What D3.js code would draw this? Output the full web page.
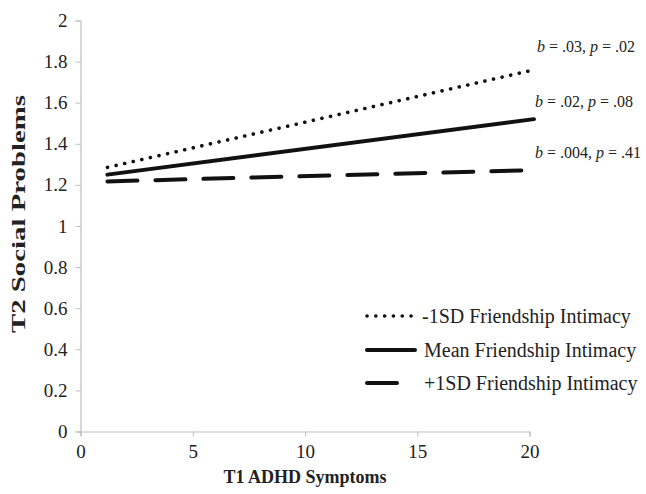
<!DOCTYPE html>
<html>
<head>
<meta charset="utf-8">
<script src="https://cdn.jsdelivr.net/npm/d3@7"></script>
<style>
  body { margin: 0; background: #fff; }
</style>
</head>
<body>
<div id="chart"></div>
<script>
// line end points
var xEnds = [1.2, 20.2]
var lowIntimacy = [1.285, 1.76]
var meanIntimacy = [1.25, 1.52]
var highIntimacy = [1.217, 1.272]

var seriesNames = ['-1SD Friendship Intimacy', 'Mean Friendship Intimacy', '+1SD Friendship Intimacy']
var slopeLabels = [
  ['b', ' = .03, ', 'p', ' = .02'],
  ['b', ' = .02, ', 'p', ' = .08'],
  ['b', ' = .004, ', 'p', ' = .41']
]
var xTicks = [0, 5, 10, 15, 20]
var yTicks = [0, 0.2, 0.4, 0.6, 0.8, 1, 1.2, 1.4, 1.6, 1.8, 2]

var serif = '"Liberation Serif", "Times New Roman", serif'
var width = 646, height = 494
var svg = d3.select('#chart').append('svg')
  .attr('width', width)
  .attr('height', height)
  .attr('font-family', serif)

var x = d3.scaleLinear().domain([0, 20]).range([80.5, 529.5])
var y = d3.scaleLinear().domain([0, 2]).range([431.5, 20.5])

var axisColour = '#bfbfbf'

// y axis
var yAxis = svg.append('g').attr('transform', 'translate(' + x(0) + ',0)')
  .call(d3.axisLeft(y).tickValues(yTicks).tickSize(5).tickPadding(8).tickFormat(d3.format('~g')))
yAxis.attr('font-family', serif).attr('font-size', 19)
yAxis.select('.domain').attr('stroke', axisColour).attr('stroke-width', 1.2)
yAxis.selectAll('.tick line').attr('stroke', axisColour)
yAxis.selectAll('.tick text').attr('fill', '#222')

// x axis
var xAxis = svg.append('g').attr('transform', 'translate(0,' + y(0) + ')')
  .call(d3.axisBottom(x).tickValues(xTicks).tickSize(5).tickPadding(8))
xAxis.attr('font-family', serif).attr('font-size', 19)
xAxis.select('.domain').attr('stroke', axisColour).attr('stroke-width', 1.2)
xAxis.selectAll('.tick line').attr('stroke', axisColour)
xAxis.selectAll('.tick text').attr('fill', '#222')

svg.append('text')
  .text('T1 ADHD Symptoms')
  .attr('x', 305)
  .attr('y', 483)
  .attr('text-anchor', 'middle')
  .attr('font-weight', 'bold')
  .attr('font-size', 18)
  .attr('fill', '#222')

svg.append('text')
  .text('T2 Social Problems')
  .attr('transform', 'translate(25,214) rotate(-90)')
  .attr('text-anchor', 'middle')
  .attr('font-weight', 'bold')
  .attr('font-size', 18)
  .attr('textLength', 238)
  .attr('lengthAdjust', 'spacingAndGlyphs')
  .attr('fill', '#222')

var styles = [
  {width: 3.6, dash: '0.1,8.7'},
  {width: 4, dash: null},
  {width: 4, dash: '30,18'}
]
var series = [lowIntimacy, meanIntimacy, highIntimacy]

var line = d3.line()
  .x(function(d){ return x(d[0]) })
  .y(function(d){ return y(d[1]) })

series.forEach(function(vals, i) {
  var pts = xEnds.map(function(xv, j){ return [xv, vals[j]] })
  svg.append('path')
    .datum(pts)
    .attr('d', line)
    .attr('fill', 'none')
    .attr('stroke', '#111')
    .attr('stroke-width', styles[i].width)
    .attr('stroke-linecap', 'round')
    .attr('stroke-dasharray', styles[i].dash)
})

// slope annotations
var annY = [52, 107, 158]
var annX = [537, 535, 535]
slopeLabels.forEach(function(parts, i) {
  var t = svg.append('text')
    .attr('x', annX[i])
    .attr('y', annY[i])
    .attr('font-size', 16)
    .attr('fill', '#222')
  parts.forEach(function(p, k) {
    t.append('tspan').text(p).attr('font-style', k % 2 === 0 ? 'italic' : 'normal')
  })
})

// legend
var legY = [316, 350, 383]
seriesNames.forEach(function(name, i) {
  svg.append('line')
    .attr('x1', 367).attr('x2', 415)
    .attr('y1', legY[i]).attr('y2', legY[i])
    .attr('stroke', '#111')
    .attr('stroke-width', styles[i].width)
    .attr('stroke-linecap', 'round')
    .attr('stroke-dasharray', styles[i].dash)
  svg.append('text')
    .text(name)
    .attr('x', i === 0 ? 422 : 424)
    .attr('y', legY[i] + 7)
    .attr('font-size', 20)
    .attr('fill', '#222')
})
</script>
</body>
</html>
